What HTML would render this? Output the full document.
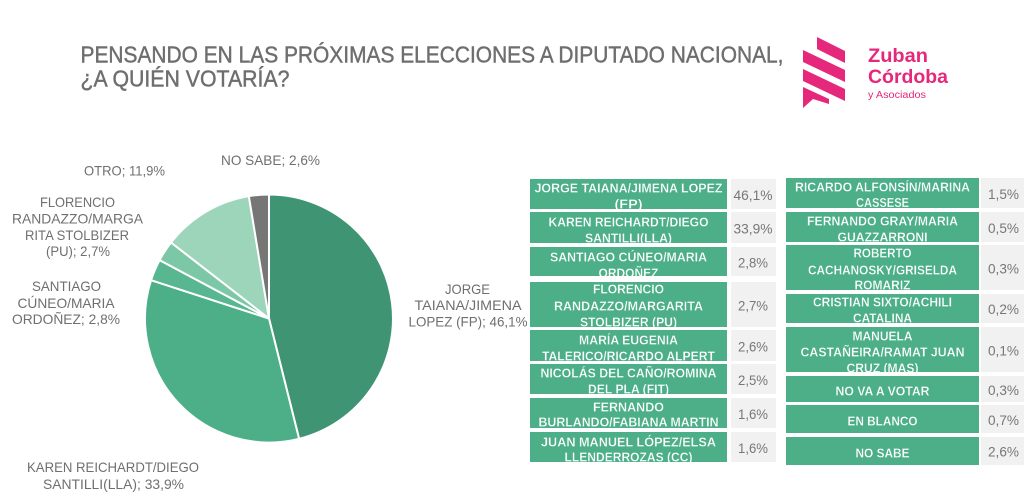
<!DOCTYPE html>
<html>
<head>
<meta charset="utf-8">
<style>
html,body{margin:0;padding:0;background:#fff;}
body{width:1024px;height:496px;overflow:hidden;}
svg{display:block;}
text{font-family:"Liberation Sans", sans-serif;}
.t{fill:#fff;font-weight:bold;font-size:13px;text-anchor:middle;stroke:#4caf88;stroke-width:0.25px;}
.v{fill:#777;font-size:14px;text-anchor:middle;}
.pl{fill:#6f6f6f;font-size:14px;text-anchor:middle;}
</style>
</head>
<body>
<svg width="1024" height="496" viewBox="0 0 1024 496" xmlns="http://www.w3.org/2000/svg">
<rect width="1024" height="496" fill="#fff"/>

<!-- Title -->
<text x="80.5" y="62.7" font-size="23.5" fill="#6e6e6e" stroke="#6e6e6e" stroke-width="0.45" textLength="703" lengthAdjust="spacingAndGlyphs">PENSANDO EN LAS PRÓXIMAS ELECCIONES A DIPUTADO NACIONAL,</text>
<text x="80.5" y="86.7" font-size="23.5" fill="#6e6e6e" stroke="#6e6e6e" stroke-width="0.45" textLength="209" lengthAdjust="spacingAndGlyphs">¿A QUIÉN VOTARÍA?</text>

<!-- Logo -->
<g fill="#e5287b">
<polygon points="817,37 845,51 845,63 817,49"/>
<polygon points="803,50 845,70 845,82 803,62"/>
<polygon points="803,69 845,89 845,101 803,81"/>
<polygon points="803,87 829,99 829,104 813,99 803,108"/>
</g>
<text x="868" y="62" font-size="19.5" font-weight="bold" fill="#e5287b" textLength="60" lengthAdjust="spacingAndGlyphs">Zuban</text>
<text x="868" y="83" font-size="19.5" font-weight="bold" fill="#e5287b" textLength="80" lengthAdjust="spacingAndGlyphs">Córdoba</text>
<text x="868" y="98" font-size="10" fill="#e5287b" textLength="58" lengthAdjust="spacingAndGlyphs">y Asociados</text>

<!-- Pie -->
<g stroke="#fff" stroke-width="2" stroke-linejoin="round">
<path d="M269,318.5 L269,194.5 A124,124 0 0 1 299.08,438.79 Z" fill="#3f9473"/>
<path d="M269,318.5 L299.08,438.79 A124,124 0 0 1 151.07,280.18 Z" fill="#4caf88"/>
<path d="M269,318.5 L151.07,280.18 A124,124 0 0 1 159.58,260.13 Z" fill="#58b690"/>
<path d="M269,318.5 L159.58,260.13 A124,124 0 0 1 171.02,242.5 Z" fill="#7cc8a6"/>
<path d="M269,318.5 L171.02,242.5 A124,124 0 0 1 248.84,196.15 Z" fill="#9dd5bb"/>
<path d="M269,318.5 L248.84,196.15 A124,124 0 0 1 269,194.5 Z" fill="#767676"/>
</g>

<!-- Pie labels -->
<text class="pl" x="270.5" y="165" textLength="99" lengthAdjust="spacingAndGlyphs">NO SABE; 2,6%</text>
<text class="pl" x="124.5" y="175.5" textLength="81" lengthAdjust="spacingAndGlyphs">OTRO; 11,9%</text>
<text class="pl" x="77.5" y="207" textLength="75" lengthAdjust="spacingAndGlyphs">FLORENCIO</text>
<text class="pl" x="77.5" y="223.5" textLength="131" lengthAdjust="spacingAndGlyphs">RANDAZZO/MARGA</text>
<text class="pl" x="77" y="240" textLength="104" lengthAdjust="spacingAndGlyphs">RITA STOLBIZER</text>
<text class="pl" x="78" y="256" textLength="64" lengthAdjust="spacingAndGlyphs">(PU); 2,7%</text>
<text class="pl" x="66.5" y="291" textLength="69" lengthAdjust="spacingAndGlyphs">SANTIAGO</text>
<text class="pl" x="66" y="308" textLength="97" lengthAdjust="spacingAndGlyphs">CÚNEO/MARIA</text>
<text class="pl" x="66" y="324" textLength="108" lengthAdjust="spacingAndGlyphs">ORDOÑEZ; 2,8%</text>
<text class="pl" x="467.5" y="294" textLength="45" lengthAdjust="spacingAndGlyphs">JORGE</text>
<text class="pl" x="468" y="310" textLength="107" lengthAdjust="spacingAndGlyphs">TAIANA/JIMENA</text>
<text class="pl" x="468" y="326.7" textLength="119" lengthAdjust="spacingAndGlyphs">LOPEZ (FP); 46,1%</text>
<text class="pl" x="113" y="472" textLength="172" lengthAdjust="spacingAndGlyphs">KAREN REICHARDT/DIEGO</text>
<text class="pl" x="113.5" y="489" textLength="141" lengthAdjust="spacingAndGlyphs">SANTILLI(LLA); 33,9%</text>

<!-- Left table -->
<g>
<rect x="731" y="179" width="45" height="30" fill="#f1f1f1"/>
<rect x="731" y="212" width="45" height="31" fill="#f1f1f1"/>
<rect x="731" y="247" width="45" height="29" fill="#f1f1f1"/>
<rect x="731" y="282" width="45" height="45" fill="#f1f1f1"/>
<rect x="731" y="330" width="45" height="31" fill="#f1f1f1"/>
<rect x="731" y="364" width="45" height="30" fill="#f1f1f1"/>
<rect x="731" y="398" width="45" height="30" fill="#f1f1f1"/>
<rect x="731" y="432" width="45" height="30" fill="#f1f1f1"/>
<text class="v" x="753" y="200" textLength="39" lengthAdjust="spacingAndGlyphs">46,1%</text>
<text class="v" x="753" y="233.5" textLength="39" lengthAdjust="spacingAndGlyphs">33,9%</text>
<text class="v" x="753" y="267.5" textLength="30" lengthAdjust="spacingAndGlyphs">2,8%</text>
<text class="v" x="753" y="310.5" textLength="30" lengthAdjust="spacingAndGlyphs">2,7%</text>
<text class="v" x="753" y="351.5" textLength="30" lengthAdjust="spacingAndGlyphs">2,6%</text>
<text class="v" x="753" y="385" textLength="30" lengthAdjust="spacingAndGlyphs">2,5%</text>
<text class="v" x="753" y="419" textLength="30" lengthAdjust="spacingAndGlyphs">1,6%</text>
<text class="v" x="753" y="453" textLength="30" lengthAdjust="spacingAndGlyphs">1,6%</text>
</g>

<svg x="530" y="179" width="197" height="30"><rect width="197" height="30" fill="#4caf88"/>
<text class="t" x="98.5" y="13.7" textLength="188" lengthAdjust="spacingAndGlyphs">JORGE TAIANA/JIMENA LOPEZ</text>
<text class="t" x="98.5" y="29.7" textLength="28" lengthAdjust="spacingAndGlyphs">(FP)</text></svg>
<svg x="530" y="212" width="197" height="31"><rect width="197" height="31" fill="#4caf88"/>
<text class="t" x="98.5" y="14.4" textLength="160" lengthAdjust="spacingAndGlyphs">KAREN REICHARDT/DIEGO</text>
<text class="t" x="98.5" y="30.7" textLength="87" lengthAdjust="spacingAndGlyphs">SANTILLI(LLA)</text></svg>
<svg x="530" y="247" width="197" height="29"><rect width="197" height="29" fill="#4caf88"/>
<text class="t" x="98.5" y="14.4" textLength="157" lengthAdjust="spacingAndGlyphs">SANTIAGO CÚNEO/MARIA</text>
<text class="t" x="98.5" y="30.7" textLength="60" lengthAdjust="spacingAndGlyphs">ORDOÑEZ</text></svg>
<svg x="530" y="282" width="197" height="45"><rect width="197" height="45" fill="#4caf88"/>
<text class="t" x="98.5" y="11.7" textLength="71" lengthAdjust="spacingAndGlyphs">FLORENCIO</text>
<text class="t" x="98.5" y="28.7" textLength="149" lengthAdjust="spacingAndGlyphs">RANDAZZO/MARGARITA</text>
<text class="t" x="98.5" y="44.4" textLength="97" lengthAdjust="spacingAndGlyphs">STOLBIZER (PU)</text></svg>
<svg x="530" y="330" width="197" height="31"><rect width="197" height="31" fill="#4caf88"/>
<text class="t" x="98.5" y="14.7" textLength="99" lengthAdjust="spacingAndGlyphs">MARÍA EUGENIA</text>
<text class="t" x="98.5" y="30.7" textLength="173" lengthAdjust="spacingAndGlyphs">TALERICO/RICARDO ALPERT</text></svg>
<svg x="530" y="364" width="197" height="30"><rect width="197" height="30" fill="#4caf88"/>
<text class="t" x="98.5" y="13.7" textLength="176" lengthAdjust="spacingAndGlyphs">NICOLÁS DEL CAÑO/ROMINA</text>
<text class="t" x="98.5" y="29.7" textLength="81" lengthAdjust="spacingAndGlyphs">DEL PLA (FIT)</text></svg>
<svg x="530" y="398" width="197" height="30"><rect width="197" height="30" fill="#4caf88"/>
<text class="t" x="98.5" y="13.4" textLength="71" lengthAdjust="spacingAndGlyphs">FERNANDO</text>
<text class="t" x="98.5" y="28.7" textLength="180" lengthAdjust="spacingAndGlyphs">BURLANDO/FABIANA MARTIN</text></svg>
<svg x="530" y="432" width="197" height="30"><rect width="197" height="30" fill="#4caf88"/>
<text class="t" x="98.5" y="14.4" textLength="175" lengthAdjust="spacingAndGlyphs">JUAN MANUEL LÓPEZ/ELSA</text>
<text class="t" x="98.5" y="29.7" textLength="128" lengthAdjust="spacingAndGlyphs">LLENDERROZAS (CC)</text></svg>

<!-- Right table -->
<g>
<rect x="981" y="178" width="43" height="30" fill="#f1f1f1"/>
<rect x="981" y="212" width="43" height="30" fill="#f1f1f1"/>
<rect x="981" y="245" width="43" height="45" fill="#f1f1f1"/>
<rect x="981" y="294" width="43" height="29" fill="#f1f1f1"/>
<rect x="981" y="327" width="43" height="45" fill="#f1f1f1"/>
<rect x="981" y="376" width="43" height="26" fill="#f1f1f1"/>
<rect x="981" y="405" width="43" height="28" fill="#f1f1f1"/>
<rect x="981" y="437" width="43" height="28" fill="#f1f1f1"/>
<text class="v" x="1003.5" y="199" textLength="31" lengthAdjust="spacingAndGlyphs">1,5%</text>
<text class="v" x="1003.5" y="233" textLength="31" lengthAdjust="spacingAndGlyphs">0,5%</text>
<text class="v" x="1003.5" y="273.5" textLength="31" lengthAdjust="spacingAndGlyphs">0,3%</text>
<text class="v" x="1003.5" y="314" textLength="31" lengthAdjust="spacingAndGlyphs">0,2%</text>
<text class="v" x="1003.5" y="355.5" textLength="31" lengthAdjust="spacingAndGlyphs">0,1%</text>
<text class="v" x="1003.5" y="395" textLength="31" lengthAdjust="spacingAndGlyphs">0,3%</text>
<text class="v" x="1003.5" y="425" textLength="31" lengthAdjust="spacingAndGlyphs">0,7%</text>
<text class="v" x="1003.5" y="456.5" textLength="31" lengthAdjust="spacingAndGlyphs">2,6%</text>
</g>

<svg x="786" y="178" width="193" height="30"><rect width="193" height="30" fill="#4caf88"/>
<text class="t" x="96.5" y="13.4" textLength="175" lengthAdjust="spacingAndGlyphs">RICARDO ALFONSÍN/MARINA</text>
<text class="t" x="96.5" y="29" textLength="53" lengthAdjust="spacingAndGlyphs">CASSESE</text></svg>
<svg x="786" y="212" width="193" height="30"><rect width="193" height="30" fill="#4caf88"/>
<text class="t" x="96.5" y="13.4" textLength="151" lengthAdjust="spacingAndGlyphs">FERNANDO GRAY/MARIA</text>
<text class="t" x="96.5" y="29.4" textLength="90" lengthAdjust="spacingAndGlyphs">GUAZZARRONI</text></svg>
<svg x="786" y="245" width="193" height="45"><rect width="193" height="45" fill="#4caf88"/>
<text class="t" x="96.5" y="12.7" textLength="58" lengthAdjust="spacingAndGlyphs">ROBERTO</text>
<text class="t" x="96.5" y="29.7" textLength="149" lengthAdjust="spacingAndGlyphs">CACHANOSKY/GRISELDA</text>
<text class="t" x="96.5" y="44.7" textLength="56" lengthAdjust="spacingAndGlyphs">ROMARIZ</text></svg>
<svg x="786" y="294" width="193" height="29"><rect width="193" height="29" fill="#4caf88"/>
<text class="t" x="96.5" y="12.7" textLength="139" lengthAdjust="spacingAndGlyphs">CRISTIAN SIXTO/ACHILI</text>
<text class="t" x="96.5" y="28.7" textLength="59" lengthAdjust="spacingAndGlyphs">CATALINA</text></svg>
<svg x="786" y="327" width="193" height="45"><rect width="193" height="45" fill="#4caf88"/>
<text class="t" x="96.5" y="13.4" textLength="60" lengthAdjust="spacingAndGlyphs">MANUELA</text>
<text class="t" x="96.5" y="29.7" textLength="164" lengthAdjust="spacingAndGlyphs">CASTAÑEIRA/RAMAT JUAN</text>
<text class="t" x="96.5" y="45.4" textLength="72" lengthAdjust="spacingAndGlyphs">CRUZ (MAS)</text></svg>
<svg x="786" y="376" width="193" height="26"><rect width="193" height="26" fill="#4caf88"/>
<text class="t" x="96.5" y="19.4" textLength="94" lengthAdjust="spacingAndGlyphs">NO VA A VOTAR</text></svg>
<svg x="786" y="405" width="193" height="28"><rect width="193" height="28" fill="#4caf88"/>
<text class="t" x="96.5" y="20.7" textLength="70" lengthAdjust="spacingAndGlyphs">EN BLANCO</text></svg>
<svg x="786" y="437" width="193" height="28"><rect width="193" height="28" fill="#4caf88"/>
<text class="t" x="96.5" y="20.4" textLength="54" lengthAdjust="spacingAndGlyphs">NO SABE</text></svg>

</svg>
</body>
</html>
